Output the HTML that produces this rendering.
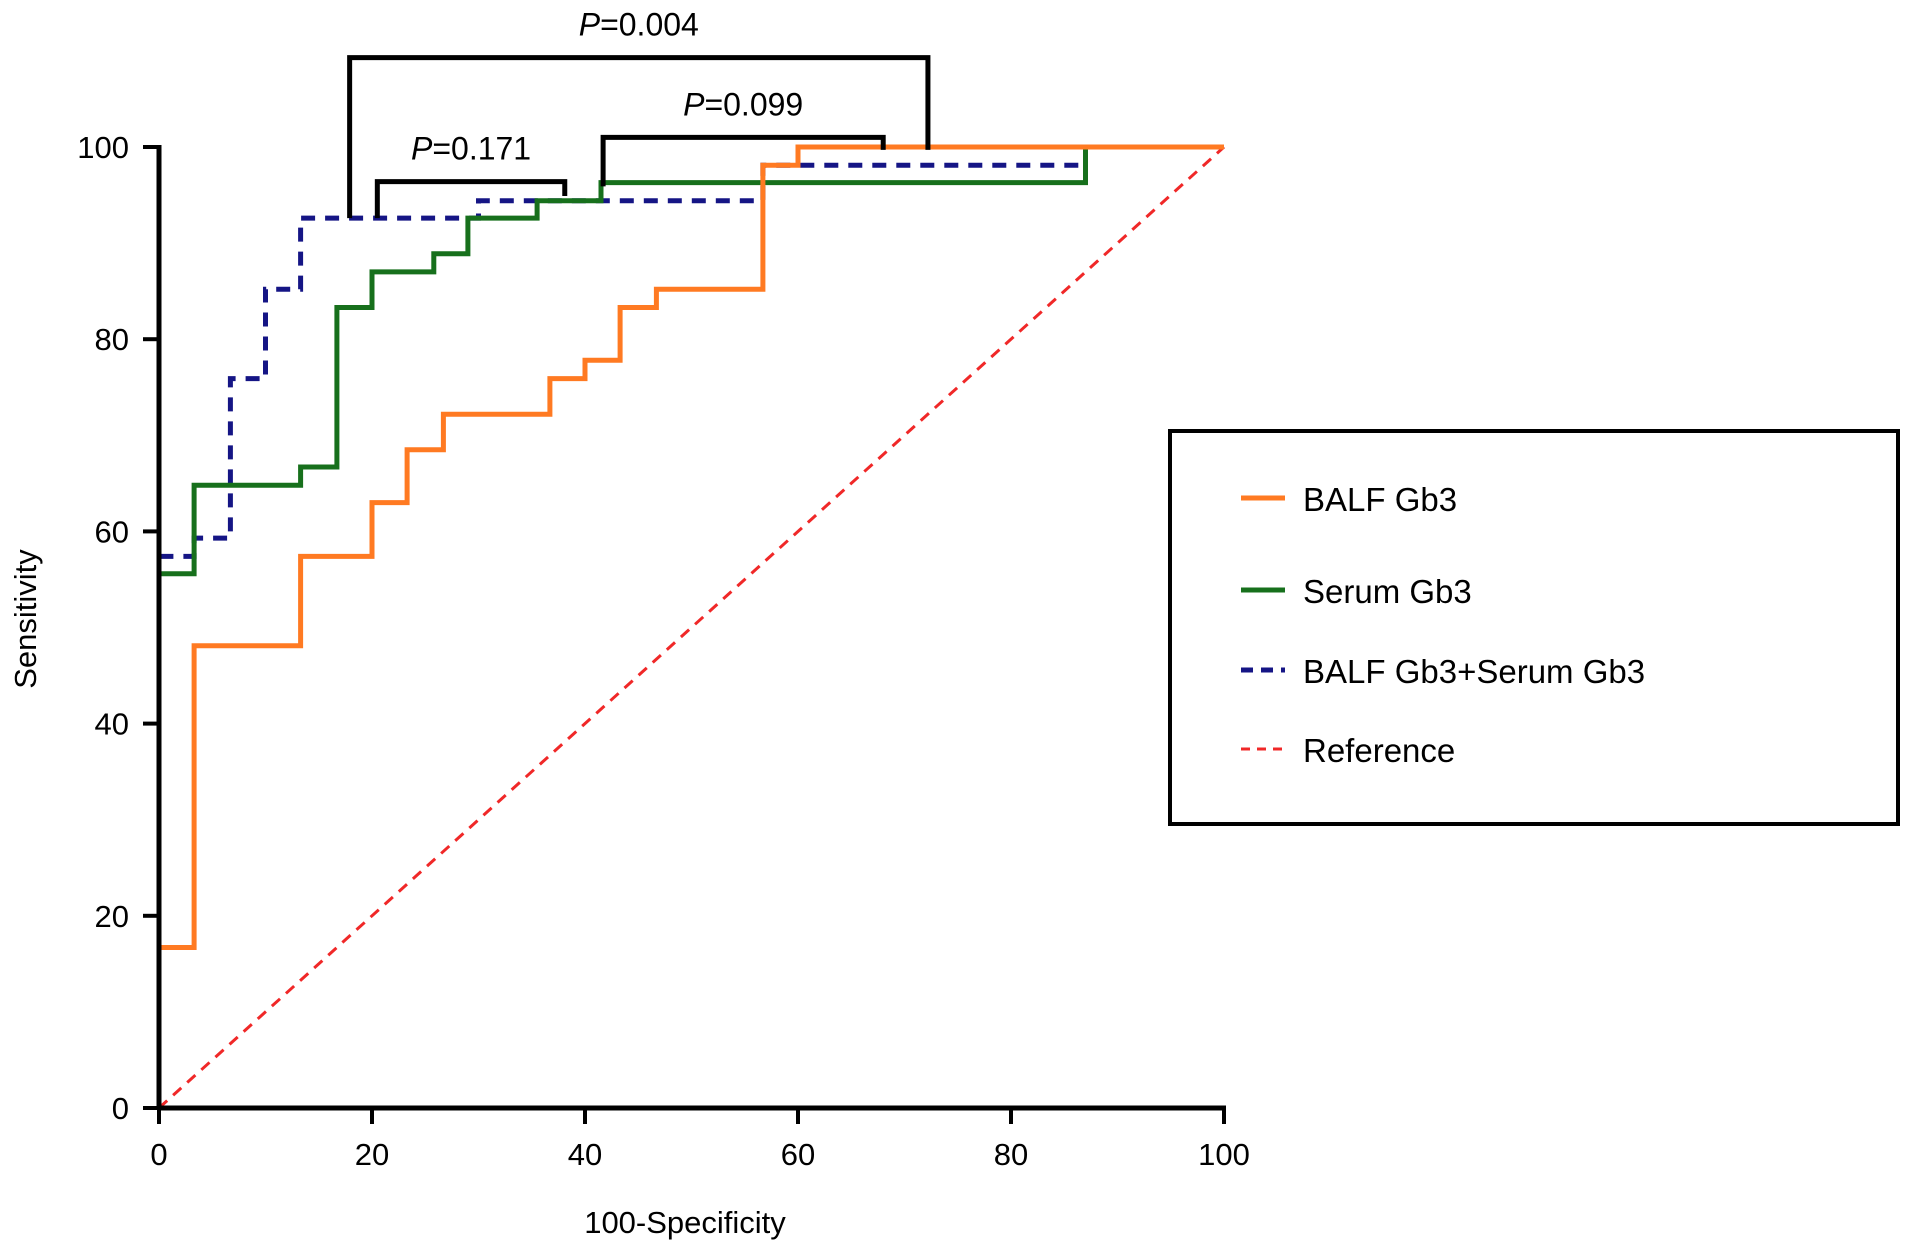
<!DOCTYPE html>
<html><head><meta charset="utf-8"><style>
html,body{margin:0;padding:0;background:#fff;}
svg{display:block;font-family:"Liberation Sans",Arial,sans-serif;}
</style></head><body>
<svg id="chart" width="1913" height="1253" viewBox="0 0 1913 1253">
<g id="plot"></g>
<g id="axes"></g>
<g id="brackets"></g>
<text x="36" y="619" font-size="31" text-anchor="middle" transform="rotate(-90 36 619)">Sensitivity</text>
<text x="685" y="1233" font-size="31" text-anchor="middle">100-Specificity</text>
<g>
<rect x="1170" y="431" width="728" height="393" fill="none" stroke="#000" stroke-width="4"/>
<g><line x1="1241" y1="498" x2="1285" y2="498" stroke="#ff7a22" stroke-width="5"/><text x="1303" y="511" font-size="33">BALF Gb3</text></g>
<g><line x1="1241" y1="590" x2="1285" y2="590" stroke="#17701c" stroke-width="5"/><text x="1303" y="603" font-size="33">Serum Gb3</text></g>
<g><line x1="1241" y1="670" x2="1285" y2="670" stroke="#151585" stroke-width="5" stroke-dasharray="12,8"/><text x="1303" y="683" font-size="33">BALF Gb3+Serum Gb3</text></g>
<g><line x1="1241" y1="749" x2="1285" y2="749" stroke="#f02828" stroke-width="3" stroke-dasharray="9,7"/><text x="1303" y="762" font-size="33">Reference</text></g>
</g>
</svg>
<script>
const xTicks=[0,20,40,60,80,100];
const yTicks=[0,20,40,60,80,100];
const balfX=[0,0,3.3,3.3,13.3,13.3,20,20,23.3,23.3,26.7,26.7,36.7,36.7,40,40,43.3,43.3,46.7,46.7,56.7,56.7,60,60,100];
const balfY=[0,16.7,16.7,48.1,48.1,57.4,57.4,63,63,68.5,68.5,72.2,72.2,75.9,75.9,77.8,77.8,83.3,83.3,85.2,85.2,98.1,98.1,100,100];
const serumX=[0,0,3.3,3.3,13.3,13.3,16.7,16.7,20,20,25.8,25.8,29,29,35.5,35.5,41.5,41.5,87,87];
const serumY=[0,55.6,55.6,64.8,64.8,66.7,66.7,83.3,83.3,87,87,88.9,88.9,92.6,92.6,94.4,94.4,96.3,96.3,100];
const combX=[0,0,3.3,3.3,6.7,6.7,10,10,13.3,13.3,30,30,56.7,56.7,87,87,100];
const combY=[0,57.4,57.4,59.3,59.3,75.9,75.9,85.2,85.2,92.6,92.6,94.4,94.4,98.1,98.1,100,100];
const refX=[0,100];
const refY=[0,100];
const bracketLabels=["P=0.171","P=0.099","P=0.004"];
const bracketX1=[20.5,41.7,17.9];
const bracketX2=[38.1,68,72.2];
const bracketTop=[96.4,101,109.3];
const bracketL=[92.6,95.9,92.6];
const bracketR=[94.9,99.7,99.7];

const X0=159,X1=1224,Y0=1108,Y1=147;
const sx=v=>X0+(X1-X0)*v/100;
const sy=v=>Y0-(Y0-Y1)*v/100;
const NS="http://www.w3.org/2000/svg";
function mk(tag,attrs,parent){const e=document.createElementNS(NS,tag);for(const k in attrs)e.setAttribute(k,attrs[k]);parent.appendChild(e);return e;}
const plot=document.getElementById('plot'),axes=document.getElementById('axes'),br=document.getElementById('brackets');
function path(xs,ys){return xs.map((x,i)=>(i?'L':'M')+sx(x).toFixed(1)+' '+sy(ys[i]).toFixed(1)).join(' ');}

let p=mk('path',{d:path(refX,refY),fill:'none',stroke:'#f02828','stroke-width':3,'stroke-dasharray':'11,8'},plot);


p=mk('path',{d:path(combX,combY),fill:'none',stroke:'#151585','stroke-width':5,'stroke-dasharray':'14,10'},plot);


p=mk('path',{d:path(serumX,serumY),fill:'none',stroke:'#17701c','stroke-width':5},plot);


p=mk('path',{d:path(balfX,balfY),fill:'none',stroke:'#ff7a22','stroke-width':5},plot);



let a=mk('line',{x1:X0,y1:Y0+2,x2:X0,y2:Y1-2,stroke:'#000','stroke-width':5},axes);


a=mk('line',{x1:X0-2,y1:Y0,x2:X1+2,y2:Y0,stroke:'#000','stroke-width':5},axes);


xTicks.forEach(t=>{
  const l=mk('line',{x1:sx(t),y1:Y0,x2:sx(t),y2:Y0+16,stroke:'#000','stroke-width':4},axes);
  
  
  const tx=mk('text',{x:sx(t),y:Y0+57,'font-size':31,'text-anchor':'middle'},axes);tx.textContent=t;
  
  
});
yTicks.forEach(t=>{
  const l=mk('line',{x1:X0-16,y1:sy(t),x2:X0,y2:sy(t),stroke:'#000','stroke-width':4},axes);
  
  
  const tx=mk('text',{x:X0-30,y:sy(t)+11,'font-size':31,'text-anchor':'end'},axes);tx.textContent=t;
  
  
});
bracketLabels.forEach((lab,i)=>{
  const d=`M${sx(bracketX1[i])} ${sy(bracketL[i])} L${sx(bracketX1[i])} ${sy(bracketTop[i])} L${sx(bracketX2[i])} ${sy(bracketTop[i])} L${sx(bracketX2[i])} ${sy(bracketR[i])}`;
  const b=mk('path',{d:d,fill:'none',stroke:'#000','stroke-width':5},br);
  
  
  const tx=mk('text',{x:(sx(bracketX1[i])+sx(bracketX2[i]))/2,y:sy(bracketTop[i])-22,'font-size':32,'text-anchor':'middle'},br);
  const it=mk('tspan',{'font-style':'italic'},tx);it.textContent=lab.slice(0,1);
  const rest=mk('tspan',{},tx);rest.textContent=lab.slice(1);
  
  
});
</script>
</body></html>
